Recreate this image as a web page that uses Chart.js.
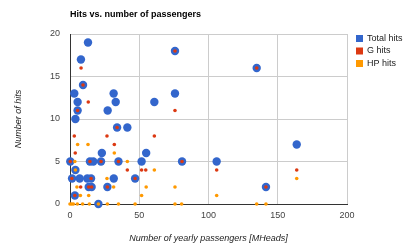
<!DOCTYPE html>
<html>
<head>
<meta charset="utf-8">
<script src="https://cdn.jsdelivr.net/npm/chart.js@4"></script>
<style>
  html, body { margin: 0; padding: 0; background: #fff; }
  #wrap { width: 405px; height: 250px; }
</style>
</head>
<body>
<div id="wrap"><canvas id="myChart" width="405" height="250"></canvas></div>
<script>
// values
const seriesNames = ['Total hits', 'G hits', 'HP hits'];
const seriesColors = ['#3366cc', '#dc3912', '#ff9900'];

const totalX = [13, 7.9, 9.4, 3.1, 31.5, 5.5, 33, 5.5, 27.2, 3.9, 34, 41.4, 23, 0.2, 14.4, 16.8, 22.4, 35, 3.9,
    1.5, 7, 12.5, 15.2, 31.6, 47, 13.5, 15.6, 27, 3.5, 20.5, 55, 51.7, 60.9, 75.8, 75.8, 80.9, 105.9, 134.8, 141.5, 163.7];
const totalY = [19, 17, 14, 13, 13, 12, 12, 11, 11, 10, 9, 9, 6, 5, 5, 5, 5, 5, 4,
    3, 3, 3, 3, 3, 3, 2, 2, 2, 1, 0, 6, 5, 12, 18, 13, 5, 5, 16, 2, 7];

const gX = [9.4, 5.5, 34, 0.2, 14.4, 22.4, 35, 1.3, 15.2, 13.5, 15.6, 27, 3.5, 47, 75.8, 80.9, 134.8, 141.5,
    8, 13.2, 3.1, 26.7, 32, 3.8, 75.8, 60.9, 41.4, 51.7, 54.7, 105.9, 163.7, 7.7];
const gY = [14, 11, 9, 5, 5, 5, 5, 3, 3, 2, 2, 2, 1, 3, 18, 5, 16, 2,
    16, 12, 8, 8, 7, 6, 11, 8, 4, 4, 4, 4, 4, 2];

const hpX = [5.5, 13, 32, 3.5, 41.4, 3.9, 60.9, 163.7, 26.7, 55, 75.8, 5, 31.5, 7.5, 13.5, 51.7, 105.9,
    0, 1.2, 2.4, 5.3, 9.1, 14, 20.5, 27, 35, 47, 75.8, 80.6, 134.8, 141.5];
const hpY = [7, 7, 6, 5, 5, 4, 4, 3, 3, 2, 2, 2, 2, 1, 1, 1, 1,
    0, 0, 0, 0, 0, 0, 0, 0, 0, 0, 0, 0, 0, 0];

const xTicks = [0, 50, 100, 150, 200];
const yTicks = [0, 5, 10, 15, 20];

function toPoints(xs, ys) {
    return xs.map((x, i) => ({ x: x, y: ys[i] }));
}

const font = 'Liberation Sans, Arial, sans-serif';

// title and legend drawn next to the plot area
const decorations = {
    id: 'decorations',
    afterDraw(chart) {
        const ctx = chart.ctx;
        const area = chart.chartArea;
        ctx.save();
        ctx.fillStyle = '#000';
        ctx.font = 'bold 9px ' + font;
        ctx.textBaseline = 'middle';
        ctx.textAlign = 'left';
        ctx.fillText('Hits vs. number of passengers', area.left, 15);

        ctx.font = '9px ' + font;
        seriesNames.forEach((name, i) => {
            const y = 38.5 + i * 12.5;
            ctx.fillStyle = seriesColors[i];
            ctx.fillRect(area.right + 9, y - 3.5, 7, 7);
            ctx.fillStyle = '#222';
            ctx.fillText(name, area.right + 20, y);
        });
        ctx.restore();
    }
};

const ctx = document.getElementById('myChart').getContext('2d');

new Chart(ctx, {
    type: 'scatter',
    data: {
        datasets: [
            {
                label: seriesNames[0],
                data: toPoints(totalX, totalY),
                backgroundColor: seriesColors[0],
                borderWidth: 0,
                pointRadius: 4.2,
                order: 3,
                clip: false
            },
            {
                label: seriesNames[1],
                data: toPoints(gX, gY),
                backgroundColor: seriesColors[1],
                borderWidth: 0,
                pointRadius: 1.8,
                order: 2,
                clip: false
            },
            {
                label: seriesNames[2],
                data: toPoints(hpX, hpY),
                backgroundColor: seriesColors[2],
                borderWidth: 0,
                pointRadius: 1.8,
                order: 1,
                clip: false
            }
        ]
    },
    options: {
        responsive: false,
        animation: false,
        layout: { padding: { top: 34, right: 58, left: 0, bottom: 0 } },
        plugins: {
            legend: { display: false },
            tooltip: { enabled: false }
        },
        scales: {
            x: {
                type: 'linear',
                min: 0,
                max: 200,
                afterBuildTicks: (scale) => { scale.ticks = xTicks.map(v => ({ value: v })); },
                afterFit: (scale) => { scale.height = 46; },
                grid: { color: '#cccccc', drawTicks: false },
                border: { color: '#333333' },
                ticks: { color: '#444', font: { family: font, size: 9 }, padding: 6 },
                title: {
                    display: true,
                    text: 'Number of yearly passengers [MHeads]',
                    color: '#222',
                    font: { family: font, size: 9, style: 'italic' },
                    padding: { top: 0, bottom: 6 }
                }
            },
            y: {
                type: 'linear',
                min: 0,
                max: 20,
                afterBuildTicks: (scale) => { scale.ticks = yTicks.map(v => ({ value: v })); },
                afterFit: (scale) => { scale.width = 70; },
                grid: { color: '#cccccc', drawTicks: false },
                border: { color: '#333333' },
                ticks: { color: '#444', font: { family: font, size: 9 }, padding: 10 },
                title: {
                    display: true,
                    text: 'Number of hits',
                    color: '#222',
                    font: { family: font, size: 9, style: 'italic' },
                    padding: { top: 13, bottom: 0 }
                }
            }
        }
    },
    plugins: [decorations]
});
</script>
</body>
</html>
